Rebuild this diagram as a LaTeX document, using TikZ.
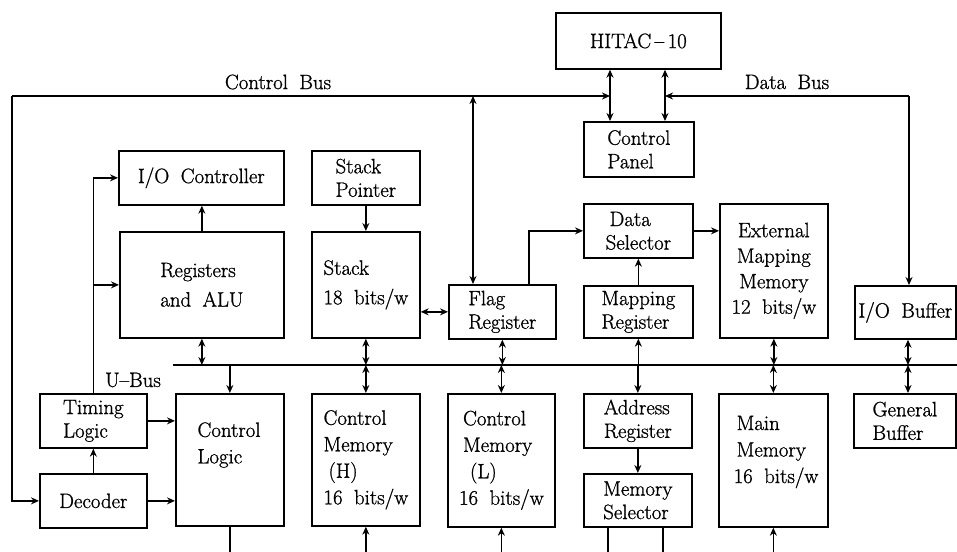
\documentclass[tikz,border=0pt]{standalone}
\usepackage{fontspec}
\setmainfont{Latin Modern Roman}[FakeBold=1]
\usetikzlibrary{arrows.meta}
\newcommand\figfont{\fontsize{20.8}{23.5}\selectfont\spaceskip=0.55em plus 0.1em minus 0.05em\relax}
\begin{document}
\begin{tikzpicture}[x=1pt,y=-1pt,
  box/.style={draw, line width=1.7pt, inner sep=0pt, font=\figfont, align=left, anchor=north west},
  txt/.style={font=\figfont, inner sep=0pt, align=left},
  con/.style={line width=1.7pt},
  tip/.tip={Stealth[length=8pt,width=7pt]},
  arr/.style={con, -tip},
  dbl/.style={con, tip-tip},
]
\useasboundingbox (0,0) rectangle (957,551);

% ---- blocks ----
\node[box, minimum width=165, minimum height=56] (hitac) at (555,12) {HITAC\,--\,10};
\node[box, minimum width=110, minimum height=55] (panel) at (583,121) {Control\\Panel};

\node[box, minimum width=165, minimum height=54] (ioctl) at (118,150) {I/O Controller};
\node[box, minimum width=108, minimum height=54] (sp) at (311,150) {Stack\\Pointer};
\node[box, minimum width=164, minimum height=106] (regs) at (119,231) {Registers\\[6pt]and ALU};
\node[box, minimum width=108, minimum height=106] (stack) at (311,231) {Stack\\[6pt]18 bits/w};
\node[box, minimum width=107, minimum height=54] (flag) at (448,284) {Flag\\Register};
\node[box, minimum width=109, minimum height=54] (dsel) at (583,203) {\hspace*{4pt}Data\\Selector};
\node[box, minimum width=109, minimum height=52] (mapr) at (583,285) {Mapping\\Register};
\node[box, minimum width=108, minimum height=134, align=center] (ext) at (719,203) {External\\[2pt]Mapping\\[2pt]Memory\\[2pt]12 bits/w};
\node[box, minimum width=101, minimum height=53] (iobuf) at (854,285) {I/O Buffer};

\node[box, minimum width=107, minimum height=54] (timing) at (39,393) {Timing\\Logic};
\node[box, minimum width=107, minimum height=54] (decoder) at (39,473) {Decoder};
\node[box, minimum width=108, minimum height=132] (clogic) at (175,393) {};
\node[txt] (clogic-t) at (229,445) {Control\\[3pt]Logic};
\node[box, minimum width=108, minimum height=132] (cmh) at (311,393) {Control\\[3pt]Memory\\[3pt]\hspace*{5pt}(H)\\[3pt]16 bits/w};
\node[box, minimum width=107, minimum height=133] (cml) at (447,393) {\hspace*{4pt}Control\\[3pt]\hspace*{4pt}Memory\\[3pt]\hspace*{11pt}(L)\\[3pt]16 bits/w};
\node[box, minimum width=108, minimum height=54] (addr) at (583,393) {Address\\Register};
\node[box, minimum width=108, minimum height=53] (msel) at (583,473) {Memory\\Selector};
\node[box, minimum width=109, minimum height=133] (mainm) at (718,393) {};
\node[txt] (mainm-t) at (776,452) {\hspace*{3pt}Main\\[3pt]\hspace*{3pt}Memory\\[3pt]16 bits/w};
\node[box, minimum width=102, minimum height=54] (gbuf) at (853,393) {General\\Buffer};

% ---- bus labels ----
\node[txt] (cbus) at (278,82) {Control Bus};
\node[txt] (dbus) at (787,82) {Data Bus};
\node[txt] (ubus) at (133,380) {U--Bus};

% ---- bus junctions ----
\coordinate (cbL) at (12,96);
\coordinate (lk1) at (610,96);
\coordinate (lk2) at (665,96);
\coordinate (db) at (909,96);
\coordinate (fl) at (473,96);
\coordinate (busL) at (173,365);
\coordinate (busR) at (957,365);
\coordinate (iox) at (908,365);

% ---- control bus and data bus ----
\draw[dbl] (hitac.south -| lk1) -- (panel.north -| lk1);
\draw[dbl] (hitac.south -| lk2) -- (panel.north -| lk2);
\draw[arr] (cbL) -- (lk1);
\draw[arr] (cbL) |- (decoder.west);
\draw[arr] (db) -- (lk2);
\draw[arr] (db) -- (db |- iobuf.north);
\draw[dbl] (fl) -- (fl |- flag.north);

% ---- upper block links ----
\draw[arr] (timing.north) |- (ioctl.west);
\draw[arr] (timing.north |- regs.west) -- (regs.west);
\draw[arr] (regs.north) -- (regs.north |- ioctl.south);
\draw[arr] (sp.south) -- (stack.north);
\draw[dbl] (flag.west -| stack.east) -- (flag.west);
\draw[arr] ([xshift=26.5pt]flag.north) |- (dsel.west);
\draw[arr] (mapr.north) -- (dsel.south);
\draw[arr] (dsel.east) -- (dsel.east -| ext.west);

% ---- U-Bus ----
\draw[con] (busL) -- (busR);
\draw[dbl] (regs.south) -- (regs.south |- busL);
\draw[arr] (clogic.north |- busL) -- (clogic.north);
\draw[dbl] (stack.south) -- (stack.south |- busL);
\draw[dbl] (cmh.north |- busL) -- (cmh.north);
\draw[dbl] (flag.south) -- (flag.south |- busL);
\draw[dbl] (cml.north |- busL) -- (cml.north);
\draw[arr] (mapr.south |- busL) -- (mapr.south);
\draw[arr] (addr.north |- busL) -- (addr.north);
\draw[dbl] (ext.south) -- (ext.south |- busL);
\draw[dbl] (mainm.north |- busL) -- (mainm.north);
\draw[dbl] (iobuf.south -| iox) -- (iox);
\draw[dbl] (iox) -- (gbuf.north -| iox);

% ---- lower block links ----
\draw[arr] (decoder.north) -- (timing.south);
\draw[arr] (timing.east) -- (timing.east -| clogic.west);
\draw[arr] (decoder.east) -- (decoder.east -| clogic.west);
\draw[arr] (addr.south) -- (msel.north);

% ---- lines leaving the bottom edge ----
\coordinate (ms1) at (608,553);
\coordinate (ms2) at (663,553);
\draw[con] (clogic.south) -- (clogic.south |- ms1);
\draw[arr] (cmh.south |- ms1) -- (cmh.south);
\draw[arr] (cml.south |- ms1) -- (cml.south);
\draw[con] (ms1 |- msel.south) -- (ms1);
\draw[con] (ms2 |- msel.south) -- (ms2);
\draw[arr] (mainm.south |- ms1) -- (mainm.south);
\end{tikzpicture}
\end{document}
